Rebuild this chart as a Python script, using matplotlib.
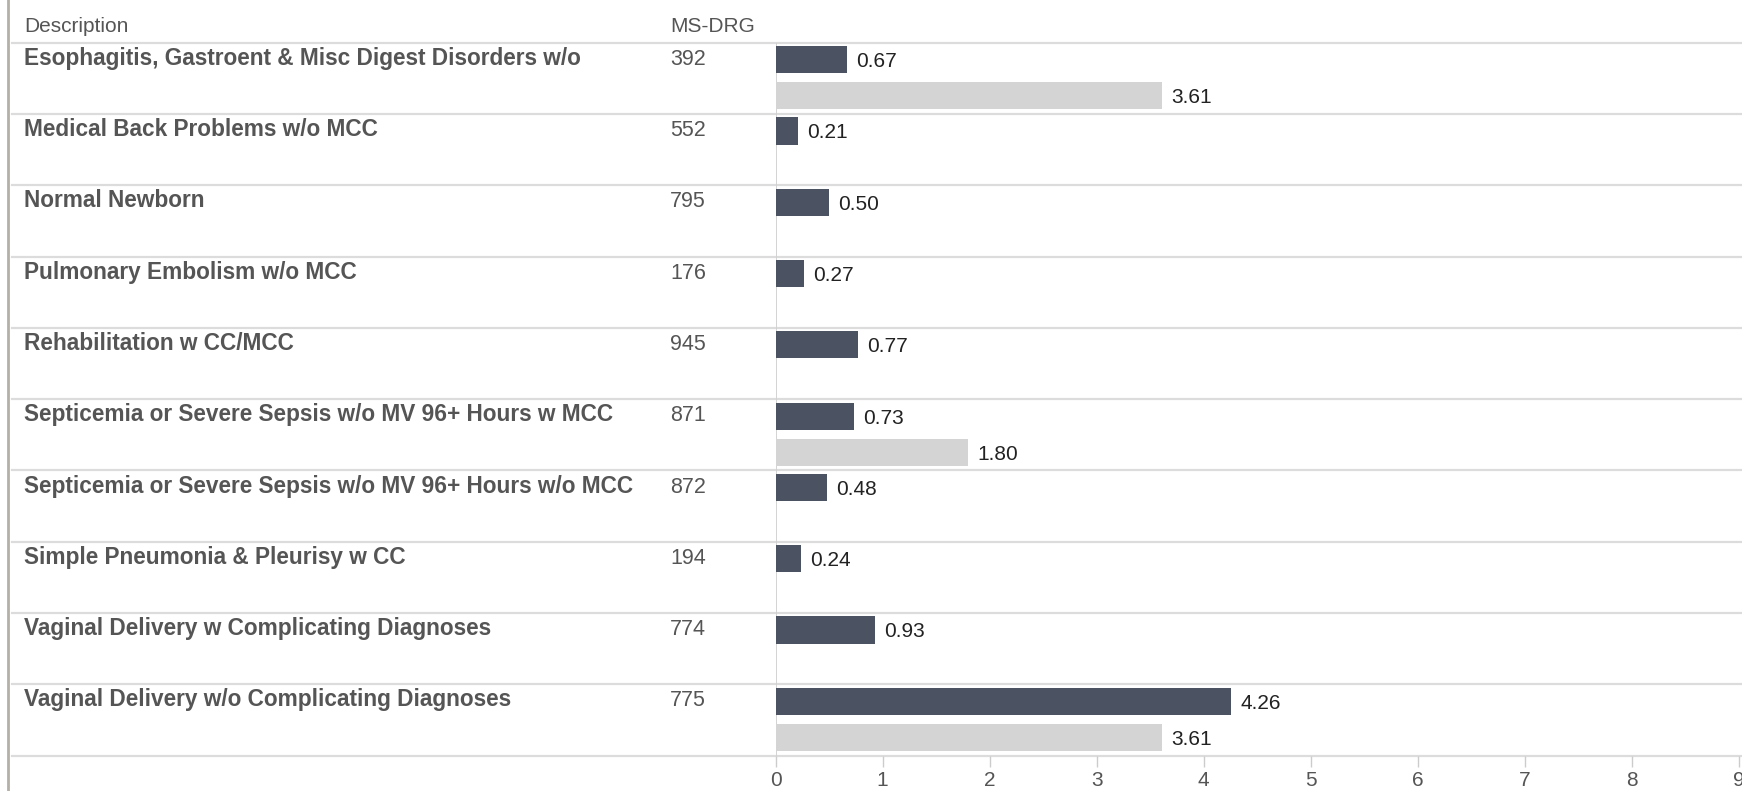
import numpy as np
import matplotlib
matplotlib.use("Agg")
import matplotlib.pyplot as plt
from matplotlib.transforms import blended_transform_factory

plt.rcParams['font.family'] = ['Liberation Sans', 'DejaVu Sans']

descriptions = [
    "Esophagitis, Gastroent & Misc Digest Disorders w/o",
    "Medical Back Problems w/o MCC",
    "Normal Newborn",
    "Pulmonary Embolism w/o MCC",
    "Rehabilitation w CC/MCC",
    "Septicemia or Severe Sepsis w/o MV 96+ Hours w MCC",
    "Septicemia or Severe Sepsis w/o MV 96+ Hours w/o MCC",
    "Simple Pneumonia & Pleurisy w CC",
    "Vaginal Delivery w Complicating Diagnoses",
    "Vaginal Delivery w/o Complicating Diagnoses",
]
drg_codes = ["392", "552", "795", "176", "945", "871", "872", "194", "774", "775"]
values_dark = [0.67, 0.21, 0.50, 0.27, 0.77, 0.73, 0.48, 0.24, 0.93, 4.26]
values_light = [3.61, np.nan, np.nan, np.nan, np.nan, 1.80, np.nan, np.nan, np.nan, 3.61]
x_ticks = list(range(10))

W, H = 1742, 791
fig = plt.figure(figsize=(W / 100, H / 100), dpi=100)

x0, x1 = 775.5, W
y_top, y_bot = 42.7, 755.6
ax = fig.add_axes([x0 / W, 1 - y_bot / H, (x1 - x0) / W, (y_bot - y_top) / H])

n = len(descriptions)
rows = np.arange(n)
dark_c = "#4b5261"
light_c = "#d4d4d4"
bh = 0.38

ax.barh(rows + 0.238, values_dark, height=bh, color=dark_c, zorder=3)
ax.barh(rows + 0.743, values_light, height=bh, color=light_c, zorder=3)

ax.set_xlim(0, 9.03)
ax.set_ylim(n, 0)

# value labels
for i, v in enumerate(values_dark):
    ax.text(v + 0.085, i + 0.238 + 0.105, f"{v:.2f}", fontsize=15, color="#222222",
            va="baseline", ha="left", zorder=4)
for i, v in enumerate(values_light):
    if not np.isnan(v):
        ax.text(v + 0.085, i + 0.743 + 0.105, f"{v:.2f}", fontsize=15, color="#222222",
                va="baseline", ha="left", zorder=4)

# row separators spanning the whole figure
tr = blended_transform_factory(fig.transFigure, ax.transData)
for k in range(n + 1):
    ax.plot([12 / W, 1], [k, k], transform=tr, color="#dcdcdc", lw=1.6,
            clip_on=False, zorder=1)

# zero line
ax.axvline(0, color="#d0d0d0", lw=1.3, zorder=2)

# row labels
for i, (d, c) in enumerate(zip(descriptions, drg_codes)):
    ax.text(24 / W, i + 0.31, d, transform=tr, fontsize=16.3, fontweight="bold",
            color="#555555", va="baseline", ha="left")
    ax.text(670 / W, i + 0.31, c, transform=tr, fontsize=15.5,
            color="#555555", va="baseline", ha="left")

# headers
fig.text(24 / W, 1 - 27 / H, "Description", fontsize=15, color="#555555", va="center")
fig.text(670 / W, 1 - 27 / H, "MS-DRG", fontsize=15, color="#555555", va="center")

# left border
fig.add_artist(plt.Line2D([8 / W, 8 / W], [0, 1], transform=fig.transFigure,
                          color="#b5b0a5", lw=2))

for s in ax.spines.values():
    s.set_visible(False)
ax.set_yticks([])
ax.set_xticks(x_ticks)
ax.tick_params(axis="x", length=8, width=1, color="#cccccc", labelsize=15,
               labelcolor="#555555", pad=3)
ax.set_facecolor("none")

fig.savefig("out.png", dpi=100)
